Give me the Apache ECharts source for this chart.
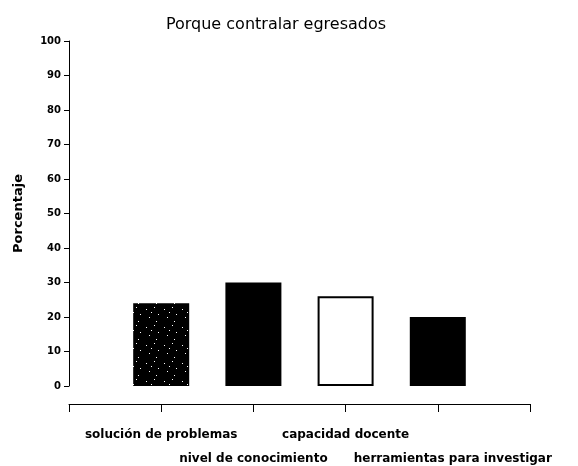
<!DOCTYPE html>
<html>
<head>
<meta charset="utf-8">
<script src="https://cdn.jsdelivr.net/npm/echarts@6/dist/echarts.min.js"></script>
<style>
  html, body { margin: 0; padding: 0; background: #fff; }
  #main { width: 578px; height: 466px; }
</style>
</head>
<body>
<div id="main"></div>
<script>
// categorias (los extremos vacios marcan los bordes del eje)
var categorias = ['', 'solución de problemas', 'nivel de conocimiento', 'capacidad docente', 'herramientas para investigar', ''];
var valores = [null, 24, 30, 26, 20, null];
var yTicks = [0, 10, 20, 30, 40, 50, 60, 70, 80, 90, 100];

// textura punteada para la primera barra
function puntos() {
    var c = document.createElement('canvas');
    c.width = 18; c.height = 18;
    var ctx = c.getContext('2d');
    ctx.fillStyle = '#000';
    ctx.fillRect(0, 0, 18, 18);
    ctx.fillStyle = '#fff';
    [[2, 3], [10, 1], [14, 8], [5, 11], [12, 15], [7, 6]].forEach(function (p) {
        ctx.fillRect(p[0], p[1], 1, 1);
    });
    return c;
}

var myChart = echarts.init(document.getElementById('main'));

var estilos = [
    {},
    { color: { image: puntos(), repeat: 'repeat' } },
    { color: '#000' },
    { color: '#fff', borderColor: '#000', borderWidth: 2 },
    { color: '#000' },
    {}
];

var fuente = 'DejaVu Sans';

var option = {
    animation: false,
    backgroundColor: '#fff',
    title: {
        text: 'Porque contralar egresados',
        left: 271,
        textAlign: 'center',
        top: 12,
        textStyle: { fontFamily: fuente, fontSize: 16, fontWeight: 'normal', color: '#000' }
    },
    grid: { left: 69, top: 41, width: 461, height: 345, outerBoundsMode: 'none' },
    xAxis: {
        type: 'category',
        data: categorias,
        boundaryGap: false,
        offset: 18,
        axisLine: { onZero: false, lineStyle: { color: '#000', width: 1 } },
        axisTick: { show: true, interval: 0, length: 8, lineStyle: { color: '#000' } },
        axisLabel: {
            interval: 0,
            margin: 19,
            lineHeight: 24,
            fontFamily: fuente,
            fontSize: 12,
            fontWeight: 'bold',
            color: '#000',
            formatter: function (v, i) {
                if (i === 2) return '\n' + v;
                if (i === 4) return '\n{h|' + v + '}';
                return v;
            },
            rich: {
                h: { padding: [0, 0, 0, 30], fontFamily: fuente, fontSize: 12, fontWeight: 'bold', lineHeight: 24, color: '#000' }
            }
        }
    },
    yAxis: {
        type: 'value',
        min: yTicks[0],
        max: yTicks[yTicks.length - 1],
        interval: 10,
        name: 'Porcentaje',
        nameLocation: 'middle',
        nameGap: 44,
        nameRotate: 90,
        nameTextStyle: { fontFamily: fuente, fontSize: 13, fontWeight: 'bold', color: '#000' },
        axisLine: { show: true, lineStyle: { color: '#000', width: 1 } },
        axisTick: { show: true, length: 5, lineStyle: { color: '#000' } },
        splitLine: { show: false },
        axisLabel: { margin: 8, fontFamily: fuente, fontSize: 10, fontWeight: 'bold', color: '#000' }
    },
    series: [{
        type: 'bar',
        barWidth: 56,
        data: valores.map(function (v, i) {
            return { value: v, itemStyle: estilos[i] };
        })
    }]
};

myChart.setOption(option);
</script>
</body>
</html>
